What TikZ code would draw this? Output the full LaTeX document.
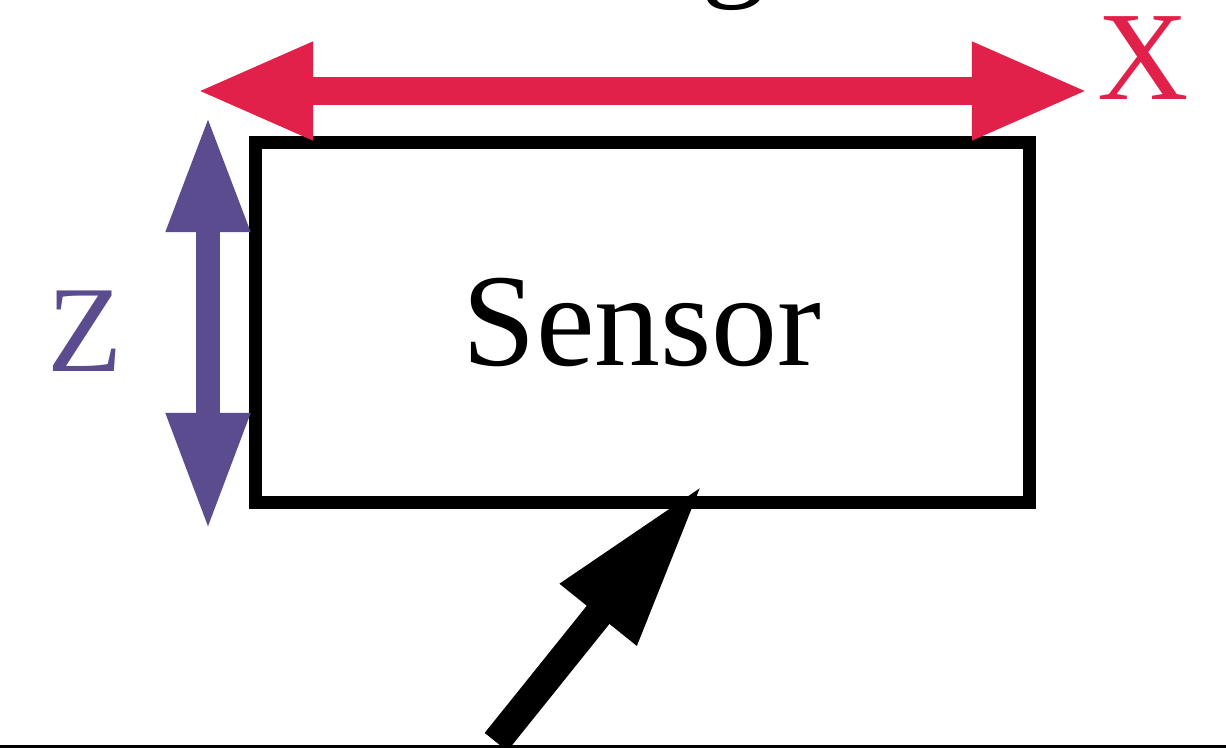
\documentclass[tikz,border=0pt]{standalone}
\usepackage{fontspec}
\setmainfont{Liberation Serif}
\usetikzlibrary{arrows.meta}
\definecolor{xred}{RGB}{226,33,75}
\definecolor{zpurple}{RGB}{91,75,143}
\tikzset{
  sensorbox/.style={draw=black, line width=0.13cm, minimum width=7.735cm, minimum height=3.6cm, inner sep=0pt, fill=white},
  xarrow/.style={draw=xred, line width=0.28cm, {Triangle[length=1.17cm,width=0.9cm]}-{Triangle[length=1.17cm,width=0.9cm]}},
  zarrow/.style={draw=zpurple, line width=0.23cm, {Triangle[length=1.16cm,width=0.78cm]}-{Triangle[length=1.17cm,width=0.78cm]}},
  parrow/.style={draw=black, line width=0.29cm, -{Triangle[length=1.69cm,width=0.9cm]}},
  lbl/.style={inner sep=0pt}
}
\begin{document}
\begin{tikzpicture}[x=0.01cm,y=-0.01cm]
\useasboundingbox (0,0) rectangle (1226,748);
\clip (0,0) rectangle (1226,748);
\node[lbl, anchor=base, font=\fontsize{37}{40}\selectfont] (g) at (734,-18) {g};
\node[sensorbox, font=\fontsize{37.5}{40}\selectfont] (sensor) at (642.25,322.5) {Sensor};
\coordinate (xl) at (196,91);
\coordinate (xr) at (1089,91);
\draw[xarrow] (xl) -- (xr);
\node[lbl, text=xred, font=\fontsize{36}{40}\selectfont] (xlab) at (1143,58.5) {X};
\coordinate (zt) at (208,116);
\coordinate (zb) at (208,530);
\draw[zarrow] (zt) -- (zb);
\node[lbl, text=zpurple, font=\fontsize{35}{40}\selectfont] (zlab) at (85,331) {Z};
\coordinate (ptail) at (496,742);
\coordinate (ptip) at (704,483);
\draw[parrow] (ptail) -- (ptip);
\coordinate (gl) at (0,746.5);
\coordinate (gr) at (1226,746.5);
\draw[line width=0.03cm] (gl) -- (gr);
\end{tikzpicture}
\end{document}
